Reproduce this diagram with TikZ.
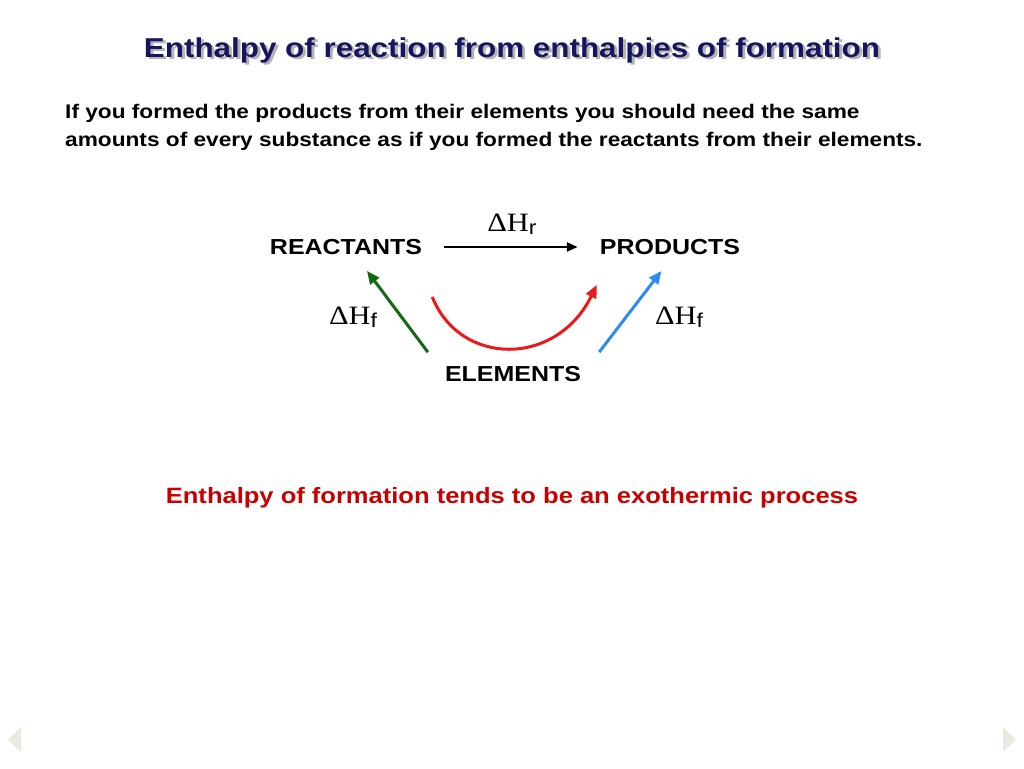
\documentclass[tikz,border=0pt]{standalone}
\usepackage{fontspec}
\setmainfont{Liberation Sans}
\newfontfamily\serifdelta{Liberation Serif}
\usetikzlibrary{arrows.meta, positioning}
\definecolor{titlenavy}{RGB}{22,22,96}
\definecolor{shadowgrey}{RGB}{180,180,180}
\definecolor{notered}{RGB}{200,0,0}
\definecolor{arcred}{RGB}{235,25,25}
\definecolor{formgreen}{RGB}{20,105,20}
\definecolor{formblue}{RGB}{45,140,240}
\definecolor{navbeige}{RGB}{236,234,224}
\newcommand{\dH}[1]{{\serifdelta\fontsize{26.5}{26.5}\selectfont ΔH}\raisebox{-0.3em}{\fontsize{20}{20}\selectfont #1}}
\newcommand{\slidetitle}{Enthalpy of reaction from enthalpies of formation}

\begin{document}
\begin{tikzpicture}[x=1pt,y=-1pt,on grid,
		stretched/.style={xscale=1.15, inner sep=0pt},
		chem/.style={stretched, font=\fontsize{21.7}{21.7}\selectfont\bfseries},
		dhlabel/.style={stretched},
		titletext/.style={stretched, font=\fontsize{27.3}{27.3}\selectfont\bfseries, text=titlenavy},
		bodytext/.style={stretched, font=\fontsize{19.7}{28}\selectfont\bfseries, align=left},
		notetext/.style={stretched, font=\fontsize{22.2}{22.2}\selectfont\bfseries, text=notered},
		rxn/.style={line width=2.5pt, -{Triangle[length=11pt,width=9pt]}},
		form/.style={line width=3pt, -{Triangle[length=13pt,width=11pt]}}]
	\useasboundingbox[fill=white] (0,0) rectangle (1024,768);

	\node[titletext, anchor=base] 		(title) 	at (512,57) 	{\rlap{\kern2.5pt\raisebox{-2.5pt}{\color{shadowgrey}\slidetitle}}\slidetitle};
	\node[bodytext, anchor=base west] 	(intro) 	at (65,146) 	{If you formed the products from their elements you should need the same\\amounts of every substance as if you formed the reactants from their elements.};

	\node[chem] 	(react) 	at (346,247) 							{REACTANTS};
	\node[chem] 	(prod) 		[right=324pt of react] 					{PRODUCTS};
	\node[chem] 	(elem) 		[below right=127pt and 167pt of react] 	{ELEMENTS};
	\node[dhlabel] 	(dhr) 		[above right=23pt and 166pt of react] 	{\dH{r}};
	\node[dhlabel] 	(dhfl) 		[below right=70pt and 7pt of react] 	{\dH{f}};
	\node[dhlabel] 	(dhfr) 		[below right=70pt and 9pt of prod] 		{\dH{f}};

	\draw[rxn] 						([xshift=22pt]react.east) -- ([xshift=-22pt]prod.west);
	\draw[form, formgreen] 			([xshift=-17pt,yshift=14pt]elem.north west) -- ([xshift=21pt,yshift=-16pt]react.south);
	\draw[form, formblue] 			([xshift=18pt,yshift=14pt]elem.north east) -- ([xshift=-8.5pt,yshift=-16pt]prod.south);
	\draw[form, arcred] 			([xshift=10pt,yshift=-42pt]react.south east) .. controls +(28,70) and +(-40,82) .. ([xshift=-3pt,yshift=-30pt]prod.south west);

	\node[notetext, anchor=base] 	(exonote) 	at (512,503) 	{Enthalpy of formation tends to be an exothermic process};

	\fill[navbeige] (21,727) -- (21,752) -- (8,739.5) -- cycle;
	\fill[navbeige] (1003,727) -- (1003,752) -- (1016,739.5) -- cycle;
\end{tikzpicture}
\end{document}
